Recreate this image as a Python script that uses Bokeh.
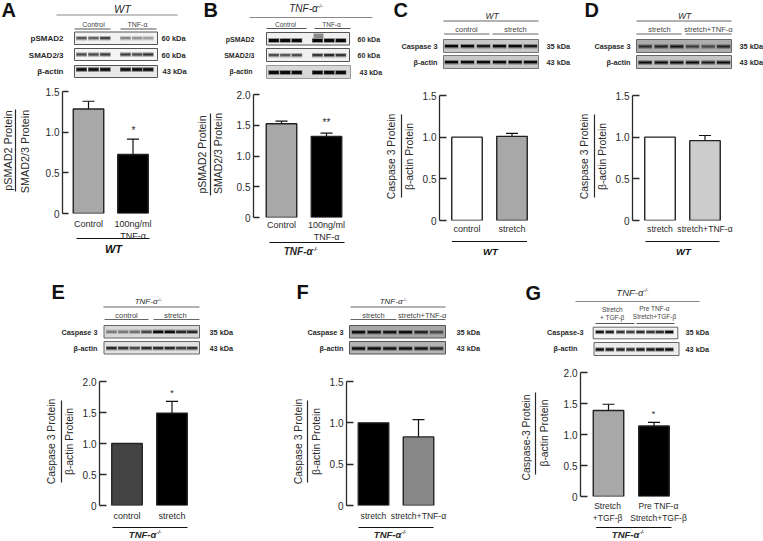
from bokeh.plotting import figure
from bokeh.layouts import column
from bokeh.embed import file_html
from bokeh.resources import INLINE
from bokeh.models import (Range1d, Label, LinearAxis, FixedTicker,
                          ColumnDataSource, Whisker, TeeHead, NumeralTickFormatter)
import math

FONT = "Liberation Sans"
INK = "#2a2a2a"

# ---- chart data ----
a_cats = ["Control", "100ng/ml\nTNF-α"]
a_vals = [1.285, 0.725]
a_errs = [1.38, 0.915]
b_cats = ["Control", "100ng/ml\nTNF-α"]
b_vals = [1.525, 1.318]
b_errs = [1.567, 1.373]
c_cats = ["control", "stretch"]
c_vals = [1.0, 1.01]
c_errs = [None, 1.045]
d_cats = ["stretch", "stretch+TNF-α"]
d_vals = [1.0, 0.958]
d_errs = [None, 1.02]
e_cats = ["control", "stretch"]
e_vals = [1.0, 1.49]
e_errs = [None, 1.68]
f_cats = ["stretch", "stretch+TNF-α"]
f_vals = [1.0, 0.83]
f_errs = [None, 1.04]
g_cats = ["Stretch\n+TGF-β", "Pre TNF-α\nStretch+TGF-β"]
g_vals = [1.387, 1.136]
g_errs = [1.488, 1.195]

ticks_15 = [0, 0.5, 1.0, 1.5]
ticks_20 = [0, 0.5, 1.0, 1.5, 2.0]


def make_panel(px0, py0, W, H, axis_x, c1, c2, y0, ytop, cats, vals, errs, ticks, colors,
               bw=30.5, standoff=5, label_size=9, label_pos=None, tick_len=7):
    left = round(axis_x)
    half = (c1 + c2) / 2 - left
    right = round(left + 2 * half)
    bottom, top = round(y0), round(ytop)
    s = c2 - c1
    idx = list(range(len(cats)))
    lpos = label_pos if label_pos is not None else idx
    p = figure(width=W, height=H, output_backend="svg", toolbar_location=None,
               x_range=Range1d((left - c1) / s, (right - c1) / s),
               y_range=Range1d(0, ticks[-1]), y_axis_location=None, x_axis_location="below",
               min_border_left=left - px0, min_border_right=px0 + W - right,
               min_border_top=top - py0, min_border_bottom=py0 + H - bottom,
               outline_line_color=None, background_fill_color=None, border_fill_color=None,
               frame_align=False,
               styles={"position": "absolute", "left": f"{px0}px", "top": f"{py0}px"})
    p.grid.visible = False
    ax = LinearAxis(ticker=FixedTicker(ticks=ticks), formatter=NumeralTickFormatter(format="0.0"),
                    major_label_overrides={0: "0"}, major_tick_in=tick_len, major_tick_out=0,
                    minor_tick_line_color=None, axis_line_color=INK, major_tick_line_color=INK,
                    axis_line_width=1.3, major_tick_line_width=1.3, major_label_standoff=3,
                    major_label_text_font=FONT, major_label_text_font_size="10px",
                    major_label_text_color=INK)
    p.add_layout(ax, "left")
    xa = p.xaxis[0]
    xa.ticker = FixedTicker(ticks=lpos)
    xa.major_label_overrides = {i: c for i, c in zip(lpos, cats)}
    xa.axis_line_color = None
    xa.major_tick_line_color = None
    xa.minor_tick_line_color = None
    xa.major_tick_in = 0
    xa.major_tick_out = 0
    xa.major_label_standoff = standoff
    xa.major_label_text_font = FONT
    xa.major_label_text_font_size = f"{label_size}px"
    xa.major_label_text_color = INK
    src = ColumnDataSource(dict(x=idx, top=vals, fill=colors))
    p.vbar(x="x", top="top", bottom=0, width=bw / s, fill_color="fill", line_color="#222222",
           line_width=1.4, source=src)
    ex = [i for i, e in zip(idx, errs) if e is not None]
    eu = [e for e in errs if e is not None]
    el = [v for v, e in zip(vals, errs) if e is not None]
    w_src = ColumnDataSource(dict(base=ex, upper=eu, lower=el))
    p.add_layout(Whisker(base="base", upper="upper", lower="lower", source=w_src, dimension="height",
                         upper_head=TeeHead(size=12, line_color="#111111", line_width=1.2),
                         lower_head=None, line_color="#111111", line_width=1.2))
    return p


# Full-page sheet behind the bar panels: blot strips, captions and rules, in page pixels.
bg = figure(width=763, height=541, output_backend="svg", toolbar_location=None,
            x_range=Range1d(0, 763), y_range=Range1d(541, 0), x_axis_type=None, y_axis_type=None,
            min_border=0, outline_line_color=None, background_fill_color="white",
            border_fill_color="white", frame_align=False,
            styles={"position": "absolute", "left": "0px", "top": "0px"})
bg.grid.visible = False


def text(x, y, t, size, bold=False, italic=False, align="center", angle=0, color=INK):
    style = "bold italic" if bold and italic else "bold" if bold else "italic" if italic else "normal"
    bg.add_layout(Label(x=x, y=y, text=t, text_font=FONT,
                        text_font_size=f"{size}px", text_font_style=style, text_align=align,
                        text_baseline="middle", angle=angle, text_color=color))


def box(x0, x1, y0, y1, fill, line=None, lw=1.0):
    bg.quad(left=x0, right=x1, top=y0, bottom=y1, fill_color=fill, line_color=line, line_width=lw)


def hline(x0, x1, y, color=INK, w=1.0):
    box(x0, x1, y - w / 2, y + w / 2, color)


def vline(x, y0, y1, color=INK, w=1.0):
    box(x - w / 2, x + w / 2, y0, y1, color)


def gray(v):
    v = max(0, min(255, int(v)))
    return f"#{v:02x}{v:02x}{v:02x}"


def blot(x0, x1, y0, y1, bgc, band_y, lanes, dark, bw=10, bh=2.2, frame="#555555"):
    box(x0, x1, y0, y1, bgc, frame, 1.0)
    base = int(bgc[1:3], 16)
    for x, d in zip(lanes, dark):
        box(x - bw / 2 - 0.5, x + bw / 2 + 0.5, band_y - bh / 2 - 1.1, band_y + bh / 2 + 1.1,
            gray(base - (base - 30) * d * 0.45))
        box(x - bw / 2, x + bw / 2, band_y - bh / 2, band_y + bh / 2,
            gray(base - (base - 10) * d))


def knockout(cx, y, size, bold=False):
    dx = size * 0.62
    text(cx + dx, y, "TNF-α", size, bold=bold, italic=True, align="right")
    text(cx + dx, y - size * 0.22, "-/-", size * 0.55, bold=bold, italic=True, align="left")


def ylab(x1, x2, xl, yl0, yl1, cy1, cy2, t1, t2, size):
    text(x1, cy1, t1, size, angle=math.pi / 2)
    vline(xl, yl0, yl1, w=1.2)
    text(x2, cy2, t2, size, angle=math.pi / 2)


def letter(x, y, t):
    text(x, y, t, 20, bold=True, align="left", color="#111111")


# ---------------- A ----------------
A = make_panel(30, 80, 140, 170, 62.5, 88, 132.5, 212.7, 90.7, a_cats, a_vals, a_errs, ticks_15,
               ["#a8a8a8", "#000000"], standoff=5, tick_len=6)
letter(1, 9, "A")
text(122, 8, "WT", 11, italic=True)
hline(56, 177, 14.5, "#888888")
text(93, 24, "Control", 7, color="#444444")
hline(74, 110, 28.5, "#555555")
text(137, 24, "TNF-α", 7, color="#444444")
hline(120, 156, 28.5, "#555555")
lanes_a = [81, 93, 104.7, 125, 136.7, 147.7]
blot(74, 157, 31.5, 44, "#f2f2f2", 37.7, lanes_a, [0.65, 0.6, 0.75, 0.45, 0.4, 0.35])
blot(74, 157, 48, 60, "#f4f4f4", 54, lanes_a, [0.75, 0.75, 0.8, 0.8, 0.75, 0.85])
blot(74, 157, 65, 77, "#e8e8e8", 69, lanes_a, [1, 1, 1, 1, 1, 1], bh=2.6)
for y, t in [(38, "pSMAD2"), (54.5, "SMAD2/3"), (70.5, "β-actin")]:
    text(63, y, t, 8, bold=True, align="right")
text(161, 38, "60 kDa", 7.5, bold=True, align="left")
text(161, 54.5, "60 kDa", 7.5, bold=True, align="left")
text(162, 71, "43 kDa", 7.5, bold=True, align="left")
text(133, 129.5, "*", 10)
hline(76, 149, 238, "#111111", 1.2)
text(113, 248, "WT", 11, bold=True, italic=True, color="#111111")
ylab(7, 24, 15, 109, 191, 150, 151, "pSMAD2 Protein", "SMAD2/3 Protein", 10.8)

# ---------------- B ----------------
B = make_panel(225, 80, 135, 170, 253, 281, 326, 217.3, 94, b_cats, b_vals, b_errs, ticks_20,
               ["#a8a8a8", "#000000"], standoff=2, tick_len=6)
letter(203, 9, "B")
knockout(311, 8, 10)
hline(249, 372, 17, "#888888")
text(285, 24, "Control", 6.5, color="#444444")
hline(266, 306, 28, "#555555")
text(331, 24, "TNF-α", 6.5, color="#444444")
hline(314, 350, 28, "#555555")
lanes_b = [273.3, 284.7, 296.3, 317, 328.7, 340.3]
blot(266, 349, 32, 44.5, "#f0f0f0", 40, lanes_b, [1, 1, 1, 1, 1, 1], bh=2.8)
box(313, 323, 33, 38, "#8a8a8a")
blot(266, 349, 48, 61, "#f0f0f0", 54.7, lanes_b, [0.7, 0.65, 0.7, 0.8, 0.85, 0.8])
blot(266, 350, 65, 78, "#d8d8d8", 72, lanes_b, [1, 1, 1, 1, 1, 1], bh=3, frame="#999999")
for y, t, x in [(38.5, "pSMAD2", 254), (54.5, "SMAD2/3", 254), (71, "β-actin", 252)]:
    text(x, y, t, 7, bold=True, align="right")
text(357, 38.5, "60 kDa", 7, bold=True, align="left")
text(357, 55, "60 kDa", 7, bold=True, align="left")
text(359, 72, "43 kDa", 7, bold=True, align="left")
text(326, 122, "**", 10)
hline(269, 344, 242, "#111111", 1.2)
knockout(306, 251, 10, bold=True)
ylab(201, 217, 210, 113, 195, 154, 153, "pSMAD2 Protein", "SMAD2/3 Protein", 10.5)

# ---------------- C ----------------
C = make_panel(412, 80, 140, 165, 438.7, 466.5, 511.5, 220, 95.3, c_cats, c_vals, c_errs, ticks_15,
               ["#ffffff", "#a8a8a8"], standoff=3)
letter(393, 9, "C")
text(491.7, 15, "WT", 8.5, italic=True)
hline(443, 538, 20.5, "#666666")
text(466, 29, "control", 7.5, color="#444444")
hline(443.5, 489, 33.5, "#666666")
text(515, 29, "stretch", 7.5, color="#444444")
hline(492, 538, 33.5, "#666666")
lanes_c = [451, 467, 483, 499, 514.7, 530]
blot(443, 538, 39, 52, "#c8c8c8", 45.7, lanes_c, [1, 1, 0.9, 1, 1, 0.9], bw=13, frame="#777777")
blot(443, 538, 55, 68, "#c8c8c8", 61.7, lanes_c, [1, 1, 1, 1, 1, 1], bw=13, frame="#777777")
text(437, 46, "Caspase 3", 7.3, bold=True, align="right")
text(437, 62, "β-actin", 7.3, bold=True, align="right")
text(546, 46, "35 kDa", 7.3, bold=True, align="left")
text(546, 62, "43 kDa", 7.3, bold=True, align="left")
hline(451.5, 526.5, 241, "#111111", 1.2)
text(490, 251, "WT", 9.5, bold=True, italic=True, color="#111111")
ylab(391, 409, 401, 114, 197, 156, 156, "Caspase 3 Protein", "β-actin Protein", 10.4)

# ---------------- D ----------------
D = make_panel(605, 80, 150, 165, 631.7, 659.5, 704.5, 220, 95.3, d_cats, d_vals, d_errs, ticks_15,
               ["#ffffff", "#cccccc"], standoff=3, label_size=8.6)
letter(584, 9, "D")
text(684, 15, "WT", 8.5, italic=True)
hline(636, 731, 20.5, "#666666")
text(659, 29, "stretch", 7.5, color="#444444")
hline(636, 681, 33.5, "#666666")
text(708, 29, "stretch+TNF-α", 7.5, color="#444444")
hline(685, 731, 33.5, "#666666")
lanes_d = [644.7, 660.7, 676.3, 692, 707.7, 723]
blot(636, 731, 39, 52, "#adadad", 46, lanes_d, [0.8, 0.85, 0.95, 0.7, 0.65, 0.85], bw=13, frame="#666666")
blot(636, 731, 55, 68, "#c4c4c4", 62, lanes_d, [1, 1, 1, 1, 0.9, 1], bw=13, frame="#666666")
text(630, 46, "Caspase 3", 7.3, bold=True, align="right")
text(630, 62, "β-actin", 7.3, bold=True, align="right")
text(739, 46, "35 kDa", 7.3, bold=True, align="left")
text(739, 62, "43 kDa", 7.3, bold=True, align="left")
hline(645, 719, 241, "#111111", 1.2)
text(683, 251, "WT", 9.5, bold=True, italic=True, color="#111111")
ylab(584, 602, 594, 114, 197, 156, 156, "Caspase 3 Protein", "β-actin Protein", 10.4)

# ---------------- E ----------------
E = make_panel(73, 370, 150, 155, 99.3, 126.5, 171.5, 505, 380.7, e_cats, e_vals, e_errs, ticks_20,
               ["#444444", "#000000"], standoff=5)
letter(51, 291, "E")
knockout(152, 301, 8)
hline(103, 199, 306.5, "#666666")
text(126, 315, "control", 7.5, color="#444444")
hline(104, 148, 319, "#666666")
text(175, 315, "stretch", 7.5, color="#444444")
hline(153, 199, 319, "#666666")
lanes_e = [111, 122.7, 134.3, 146, 157.7, 169.3, 180.7, 191.7]
blot(103.5, 199, 325, 337.5, "#d8d8d8", 331.3, lanes_e, [0.45, 0.45, 0.5, 0.7, 1, 1, 0.85, 0.85], frame="#666666")
blot(103.5, 199, 341, 353.5, "#e2e2e2", 347.7, lanes_e, [0.85, 0.8, 0.7, 0.85, 0.85, 0.85, 0.75, 0.8], frame="#666666")
text(97, 331.5, "Caspase 3", 7.3, bold=True, align="right")
text(97, 347.5, "β-actin", 7.3, bold=True, align="right")
text(209, 331.5, "35 kDa", 7.3, bold=True, align="left")
text(209, 347.5, "43 kDa", 7.3, bold=True, align="left")
text(171.5, 392, "*", 9)
hline(112, 187, 527, "#111111", 1.2)
knockout(150, 534, 9.5, bold=True)
ylab(51, 69, 61, 400, 482, 441, 441, "Caspase 3 Protein", "β-actin Protein", 10.4)

# ---------------- F ----------------
F = make_panel(320, 370, 150, 155, 345.7, 373, 418, 505, 380.7, f_cats, f_vals, f_errs, ticks_15,
               ["#000000", "#888888"], standoff=5, label_size=8.6)
letter(296, 291, "F")
knockout(397, 301, 8)
hline(350, 445, 306.5, "#666666")
text(373, 315, "stretch", 7.5, color="#444444")
hline(350, 396, 319, "#666666")
text(421.7, 315, "stretch+TNF-α", 7.5, color="#444444")
hline(398, 445, 319, "#666666")
lanes_f = [358, 373.7, 389.3, 405, 420.7, 436]
blot(349, 445, 325, 337.5, "#a8a8a8", 331.7, lanes_f, [1, 0.95, 0.95, 1, 0.85, 0.6], bw=13, frame="#555555")
blot(349, 445, 341, 353.5, "#b4b4b4", 348, lanes_f, [1, 1, 0.95, 1, 0.95, 0.85], bw=13, frame="#555555")
text(343, 331.5, "Caspase 3", 7.3, bold=True, align="right")
text(343, 347.5, "β-actin", 7.3, bold=True, align="right")
text(456, 331.5, "35 kDa", 7.3, bold=True, align="left")
text(456, 347.5, "43 kDa", 7.3, bold=True, align="left")
hline(358, 433, 527, "#111111", 1.2)
knockout(395, 534, 9.5, bold=True)
ylab(298, 316, 307, 400, 482, 441, 441, "Caspase 3 Protein", "β-actin Protein", 10.4)

# ---------------- G ----------------
G = make_panel(550, 360, 170, 165, 580, 608, 653.5, 496.7, 371.7, g_cats, g_vals, g_errs, ticks_20,
               ["#a8a8a8", "#000000"], standoff=4, label_size=8.5, label_pos=[-0.02, 1.1])
letter(525, 292, "G")
knockout(637, 292, 9.5)
hline(575, 699, 301, "#888888")
text(611.7, 309, "Stretch", 6.5, color="#444444")
text(611.7, 317, "+ TGF-β", 6.5, color="#444444")
text(654, 308, "Pre TNF-α", 6.5, color="#444444")
text(654, 316, "Stretch+TGF-β", 6.5, color="#444444")
hline(595, 634, 323, "#555555")
hline(636, 674, 323, "#555555")
lanes_g = [599.3, 609.3, 620, 630, 640, 650, 659.3, 668.7]
blot(592.7, 677.3, 326.7, 338.3, "#f4f4f4", 331.5, lanes_g, [0.95, 0.9, 0.8, 0.75, 0.85, 0.8, 0.85, 1], bw=8, frame="#666666")
blot(593.5, 678.5, 342, 355, "#ececec", 349, lanes_g, [1, 0.95, 0.9, 0.85, 0.95, 0.95, 1, 1], bw=8, frame="#666666")
text(583, 332, "Caspase-3", 7.3, bold=True, align="right")
text(577, 348, "β-actin", 7.3, bold=True, align="right")
text(685, 332, "35 kDa", 7.3, bold=True, align="left")
text(685, 349, "43 kDa", 7.3, bold=True, align="left")
text(653, 413, "*", 9)
hline(595.7, 671, 527, "#111111", 1.2)
knockout(633, 534, 9.5, bold=True)
ylab(525.7, 544, 535, 392, 474, 437, 432.5, "Caspase-3 Protein", "β-actin Protein", 10.4)

page = column(bg, A, B, C, D, E, F, G, spacing=0, width=763, height=541)
open("out.html", "w").write(file_html(page, INLINE))
